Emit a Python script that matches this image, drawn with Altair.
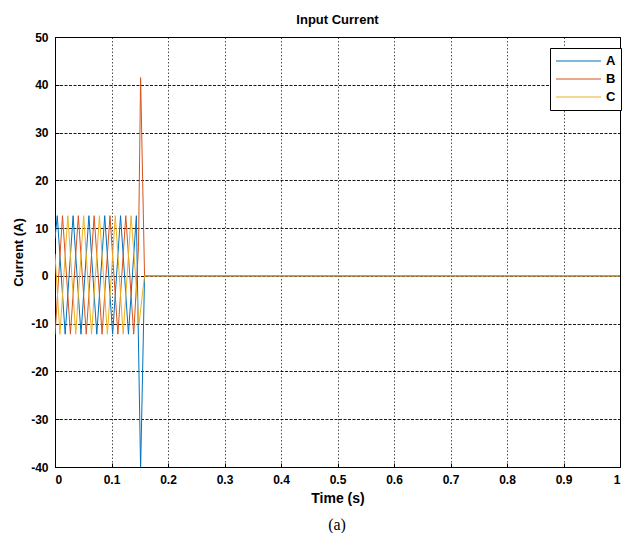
import altair as alt
import pandas as pd

# Vertex lists (time in s, current in A)
a_t = [0.0, 0.004, 0.018, 0.032, 0.046, 0.060, 0.074, 0.088, 0.102, 0.116, 0.130, 0.144, 0.1515, 0.1585, 1.0]
a_v = [7.8, 12.6, -12.2, 12.6, -12.2, 12.6, -12.2, 12.6, -12.2, 12.6, -12.2, 12.6, -40.5, 0.0, 0.0]

b_t = [0.0, 0.0133, 0.0273, 0.0413, 0.0553, 0.0693, 0.0833, 0.0973, 0.1113, 0.1253, 0.1393, 0.1478, 0.1515, 0.1585, 1.0]
b_v = [-12.3, 12.6, -12.2, 12.6, -12.2, 12.6, -12.2, 12.6, -12.2, 12.6, -12.2, 6.0, 41.5, 0.0, 0.0]

c_t = [0.0, 0.0087, 0.0227, 0.0367, 0.0507, 0.0647, 0.0787, 0.0927, 0.1067, 0.1207, 0.1347, 0.1487, 0.1585, 1.0]
c_v = [4.6, -12.2, 12.6, -12.2, 12.6, -12.2, 12.6, -12.2, 12.6, -12.2, 12.6, -10.0, 0.0, 0.0]

phases = ["A", "B", "C"]
colors = ["#0072BD", "#D95319", "#EDB120"]
x_ticks = [0, 0.1, 0.2, 0.3, 0.4, 0.5, 0.6, 0.7, 0.8, 0.9, 1.0]
y_ticks = [-40, -30, -20, -10, 0, 10, 20, 30, 40, 50]

rows = []
for name, ts, vs in (("A", a_t, a_v), ("B", b_t, b_v), ("C", c_t, c_v)):
    for i, (t, v) in enumerate(zip(ts, vs)):
        rows.append({"phase": name, "t": t, "i": i, "v": v})
df = pd.DataFrame(rows)

FONT = "Liberation Sans"

lines = alt.Chart(df).mark_line(strokeWidth=1, clip=True).encode(
    x=alt.X("t:Q", scale=alt.Scale(domain=[0, 1], nice=False),
            axis=alt.Axis(title="Time (s)", values=x_ticks, labelExpr="toString(datum.value)",
                          offset=-4, tickSize=4, labelPadding=7, domain=False,
                          titlePadding=6, gridDash=[1.5, 2], gridOpacity=0.7)),
    y=alt.Y("v:Q", scale=alt.Scale(domain=[-40, 50], nice=False),
            axis=alt.Axis(title="Current (A)", values=y_ticks, labelExpr="toString(datum.value)",
                          offset=-4, tickSize=4, labelPadding=7, domain=False,
                          titlePadding=5, titleFontSize=13, gridDash=[3, 1.5], gridOpacity=0.9)),
    color=alt.Color("phase:N", scale=alt.Scale(domain=phases, range=colors),
                    legend=alt.Legend(title=None, orient="none", legendX=495, legendY=11,
                                      symbolType="stroke", symbolSize=2025,
                                      symbolStrokeWidth=1.2, clipHeight=16,
                                      fillColor="white", strokeColor="black",
                                      padding=5, rowPadding=2, labelOffset=4,
                                      labelFontSize=13, labelFontWeight="bold",
                                      labelFont=FONT, labelColor="black")),
    order="i:Q",
    detail="phase:N",
)

caption = alt.Chart(pd.DataFrame({"c": ["(a)"]})).mark_text(
    font="Liberation Serif", fontSize=16, color="black"
).encode(x=alt.value(282), y=alt.value(488), text="c:N")

chart = alt.layer(lines, caption).properties(
    width=565, height=430,
    title=alt.TitleParams("Input Current", font=FONT, fontSize=13, fontWeight="bold",
                          color="black", offset=4),
    autosize=alt.AutoSizeParams(type="none"),
    padding={"left": 47, "top": 29, "right": 2, "bottom": 66},
).configure(
    background="white"
).configure_view(
    stroke="black", strokeWidth=1
).configure_axis(
    grid=True, gridColor="#000", gridWidth=1,
    labelFont=FONT, labelFontSize=12, labelFontWeight="bold", labelColor="black",
    titleFont=FONT, titleFontSize=14, titleFontWeight="bold", titleColor="black",
    tickColor="black", tickWidth=1,
)

chart.save("out.html", embed_options={"renderer": "svg", "actions": False})
